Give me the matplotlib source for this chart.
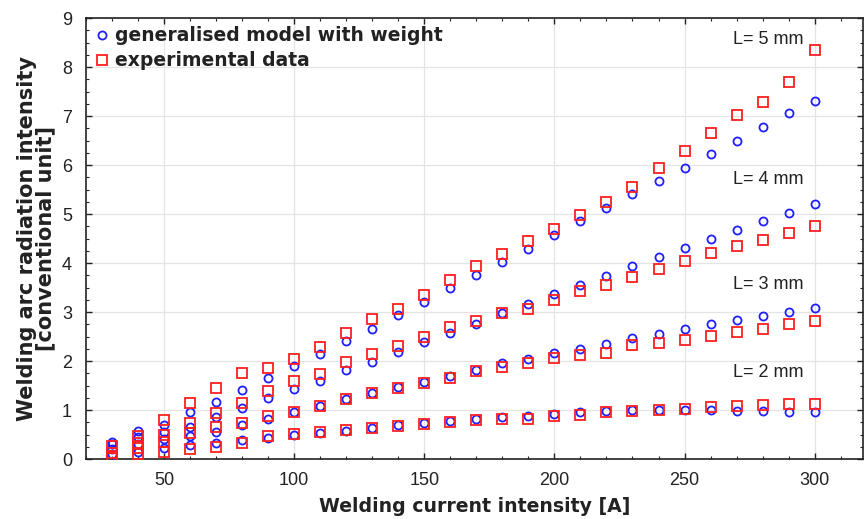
import matplotlib
matplotlib.use("Agg")
import matplotlib.pyplot as plt
from matplotlib.ticker import MultipleLocator

current = list(range(30, 310, 10))

model_L5 = [0.35, 0.57, 0.70, 0.95, 1.17, 1.40, 1.65, 1.90, 2.15, 2.41, 2.66, 2.93, 3.20, 3.48,
            3.75, 4.02, 4.29, 4.57, 4.85, 5.12, 5.40, 5.67, 5.94, 6.23, 6.50, 6.78, 7.06, 7.31]
exp_L5 = [0.27, 0.47, 0.80, 1.14, 1.45, 1.75, 1.85, 2.04, 2.28, 2.58, 2.86, 3.07, 3.34, 3.65,
          3.93, 4.19, 4.44, 4.70, 4.98, 5.25, 5.56, 5.94, 6.28, 6.66, 7.02, 7.29, 7.70, 8.35]
model_L4 = [0.30, 0.45, 0.55, 0.66, 0.85, 1.04, 1.24, 1.43, 1.60, 1.81, 1.98, 2.19, 2.38, 2.57,
            2.76, 2.97, 3.17, 3.37, 3.55, 3.74, 3.93, 4.12, 4.31, 4.49, 4.68, 4.85, 5.02, 5.20]
exp_L4 = [0.12, 0.33, 0.50, 0.74, 0.93, 1.15, 1.39, 1.59, 1.73, 1.97, 2.14, 2.31, 2.49, 2.69,
          2.81, 2.98, 3.07, 3.25, 3.42, 3.56, 3.71, 3.88, 4.04, 4.20, 4.35, 4.47, 4.61, 4.75]
model_L3 = [0.20, 0.30, 0.40, 0.46, 0.56, 0.70, 0.81, 0.95, 1.08, 1.23, 1.35, 1.46, 1.57, 1.69,
            1.82, 1.96, 2.04, 2.16, 2.25, 2.35, 2.46, 2.55, 2.66, 2.75, 2.84, 2.92, 3.01, 3.09]
exp_L3 = [0.05, 0.22, 0.35, 0.54, 0.66, 0.73, 0.88, 0.96, 1.08, 1.22, 1.34, 1.45, 1.55, 1.66,
          1.79, 1.87, 1.96, 2.07, 2.12, 2.16, 2.32, 2.36, 2.43, 2.52, 2.59, 2.66, 2.75, 2.82]
model_L2 = [0.10, 0.15, 0.22, 0.29, 0.33, 0.38, 0.42, 0.50, 0.54, 0.57, 0.63, 0.69, 0.74, 0.78,
            0.82, 0.86, 0.88, 0.92, 0.95, 0.97, 0.99, 1.00, 0.99, 0.99, 0.98, 0.98, 0.96, 0.95]
exp_L2 = [0.02, 0.10, 0.15, 0.20, 0.25, 0.33, 0.46, 0.52, 0.56, 0.59, 0.64, 0.67, 0.72, 0.75,
          0.80, 0.82, 0.82, 0.87, 0.90, 0.95, 0.98, 1.00, 1.03, 1.06, 1.08, 1.10, 1.12, 1.12]

labels_L = ["L= 5 mm", "L= 4 mm", "L= 3 mm", "L= 2 mm"]
label_y = [8.57, 5.70, 3.56, 1.76]
legend_labels = ["generalised model with weight", "experimental data"]

plt.rcParams['font.family'] = ['Liberation Sans', 'DejaVu Sans']

fig = plt.figure(figsize=(8.66, 5.19), dpi=100)
ax = fig.add_axes([0.0993, 0.1156, 0.897, 0.8497])

models = [model_L5, model_L4, model_L3, model_L2]
exps = [exp_L5, exp_L4, exp_L3, exp_L2]
for i, (m, e) in enumerate(zip(models, exps)):
    ax.plot(current, m, linestyle='none', marker='o', markersize=5.8, markerfacecolor='none',
            markeredgecolor='#1f1fff', markeredgewidth=1.3,
            label=legend_labels[0] if i == 0 else None, zorder=3)
    ax.plot(current, e, linestyle='none', marker='s', markersize=6.6, markerfacecolor='none',
            markeredgecolor='#ff2020', markeredgewidth=1.3,
            label=legend_labels[1] if i == 0 else None, zorder=4)

for lab, yy in zip(labels_L, label_y):
    ax.text(268.5, yy, lab, fontsize=13, color='#222222', va='center', ha='left')

ax.set_xlim(20, 318.5)
ax.set_ylim(0, 9)
ax.xaxis.set_major_locator(MultipleLocator(50))
ax.xaxis.set_minor_locator(MultipleLocator(10))
ax.yaxis.set_major_locator(MultipleLocator(1))
ax.yaxis.set_minor_locator(MultipleLocator(0.25))
ax.tick_params(which='both', direction='in', top=True, right=True, labelsize=13, colors='#222222')
ax.tick_params(which='major', length=4, width=1)
ax.tick_params(which='minor', length=2.5, width=0.8)
ax.tick_params(axis='x', pad=9)
ax.tick_params(axis='y', pad=10)
ax.grid(True, which='major', color='#e4e4e4', linewidth=0.9)
ax.set_axisbelow(True)
for s in ax.spines.values():
    s.set_linewidth(1.2)
    s.set_color('#222222')

ax.set_xlabel("Welding current intensity [A]", fontsize=13.6, fontweight='bold',
              family='DejaVu Sans', color='#222222', labelpad=6)
ax.set_ylabel("Welding arc radiation intensity\n[conventional unit]", fontsize=15,
              fontweight='bold', family='DejaVu Sans', color='#222222', labelpad=5,
              linespacing=0.88)

leg = ax.legend(loc='upper left', frameon=False, handletextpad=0.3,
                borderaxespad=0.05, labelspacing=0.3, handlelength=0.8,
                prop={'weight': 'bold', 'size': 13.5, 'family': 'DejaVu Sans'})
for t in leg.get_texts():
    t.set_color('#222222')

fig.savefig("out.png", dpi=100)
